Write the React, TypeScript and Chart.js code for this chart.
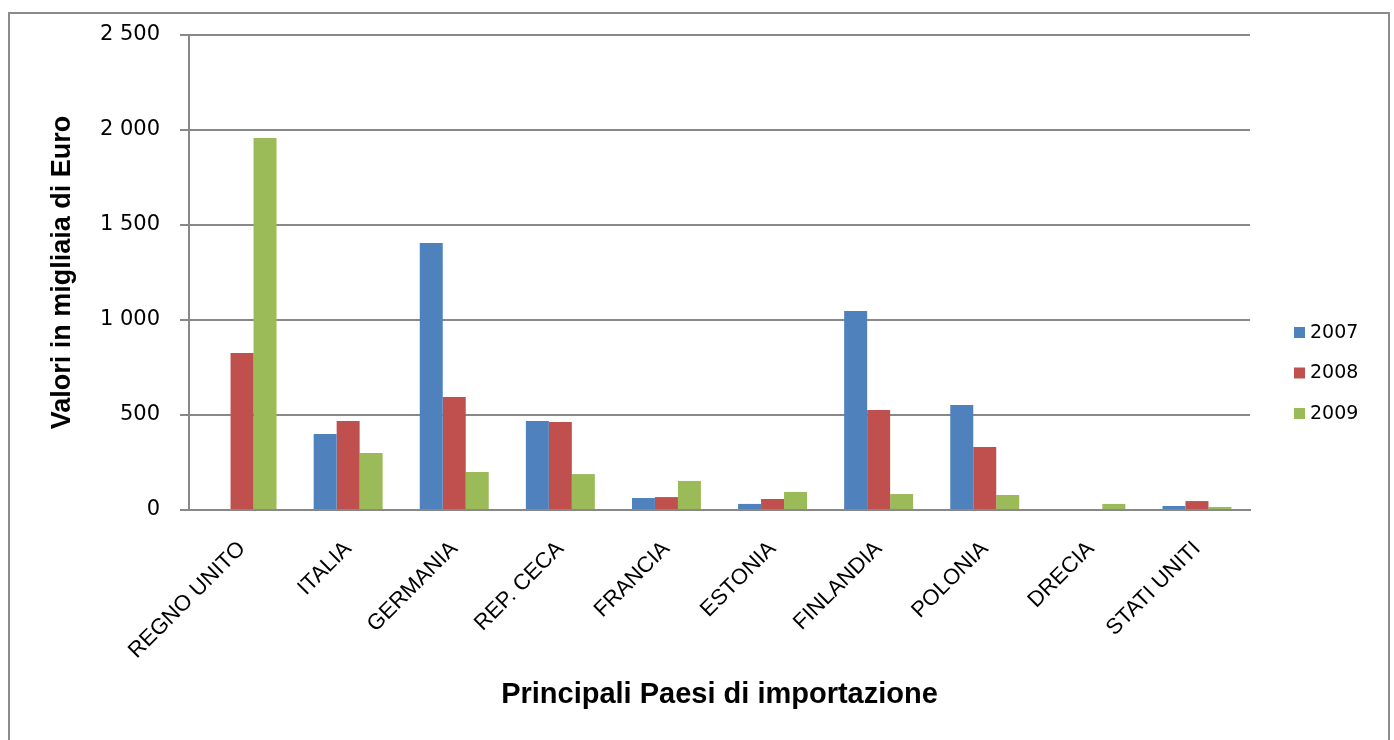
import React, { useEffect, useRef } from "react";
import { Chart, registerables } from "chart.js";

Chart.register(...registerables);

const categories = [
  "REGNO UNITO",
  "ITALIA",
  "GERMANIA",
  "REP. CECA",
  "FRANCIA",
  "ESTONIA",
  "FINLANDIA",
  "POLONIA",
  "DRECIA",
  "STATI UNITI",
];
const seriesLabels = ["2007", "2008", "2009"];
const values2007 = [0, 400, 1405, 468, 63, 32, 1047, 553, 0, 21];
const values2008 = [826, 468, 595, 463, 68, 58, 526, 332, 0, 47];
const values2009 = [1958, 300, 200, 189, 153, 95, 84, 79, 32, 16];
const yTicks = [0, 500, 1000, 1500, 2000, 2500];
const seriesColors = ["#4F81BD", "#C0504D", "#9BBB59"];

const yTitle = "Valori in migliaia di Euro";
const xTitle = "Principali Paesi di importazione";

function formatThousands(v: number): string {
  return String(v).replace(/\B(?=(\d{3})+(?!\d))/g, " ");
}

const sideLegend = {
  id: "sideLegend",
  afterDraw(chart: any) {
    const { ctx, chartArea } = chart;
    ctx.save();
    ctx.font = '19px "DejaVu Sans"';
    ctx.textBaseline = "middle";
    ctx.textAlign = "left";
    const x0 = chartArea.right + 44;
    chart.data.datasets.forEach((ds: any, i: number) => {
      const y = 332 + i * 40.5;
      ctx.fillStyle = ds.backgroundColor;
      ctx.fillRect(x0, y - 5, 11, 11);
      ctx.fillStyle = "#000";
      ctx.fillText(ds.label, x0 + 16, y + 1);
    });
    ctx.restore();
  },
};

export default function App() {
  const canvasRef = useRef<HTMLCanvasElement | null>(null);

  useEffect(() => {
    if (!canvasRef.current) return;
    const seriesValues = [values2007, values2008, values2009];
    const chart = new Chart(canvasRef.current, {
      type: "bar",
      data: {
        labels: categories,
        datasets: seriesLabels.map((label, i) => ({
          label,
          data: seriesValues[i],
          backgroundColor: seriesColors[i],
          borderWidth: 0,
          categoryPercentage: 0.65,
          barPercentage: 1,
        })),
      },
      options: {
        responsive: false,
        animation: false,
        layout: { padding: { left: 0, top: 35, right: 144, bottom: 0 } },
        plugins: {
          legend: { display: false },
          tooltip: { enabled: false },
          title: { display: false },
        },
        scales: {
          x: {
            grid: { display: false },
            border: { display: true, color: "#888888", width: 2 },
            ticks: {
              autoSkip: false,
              minRotation: 45,
              maxRotation: 45,
              padding: 18,
              color: "#000",
              font: { family: "Liberation Sans", size: 22 },
            },
            title: {
              display: true,
              text: xTitle,
              color: "#000",
              font: { family: "Liberation Sans", size: 29, weight: "bold" },
              padding: { top: 0, bottom: 28 },
            },
            afterFit: (s: any) => {
              s.height = 230;
            },
          },
          y: {
            min: 0,
            max: 2500,
            afterBuildTicks: (s: any) => {
              s.ticks = yTicks.map((v) => ({ value: v }));
            },
            ticks: {
              padding: 20,
              color: "#000",
              font: { family: "DejaVu Sans", size: 21 },
              callback: (v: any) => formatThousands(Number(v)),
            },
            grid: { color: "#888888", lineWidth: 2, tickLength: 9, drawTicks: true },
            border: { display: true, color: "#888888", width: 2 },
            title: {
              display: true,
              text: yTitle,
              color: "#000",
              font: { family: "Liberation Sans", size: 27, weight: "bold" },
              padding: { top: 46, bottom: 0 },
            },
            afterFit: (s: any) => {
              s.width = 189;
            },
          },
        },
      },
      plugins: [sideLegend],
    });
    return () => chart.destroy();
  }, []);

  return (
    <div
      style={{
        position: "fixed",
        left: 0,
        top: 0,
        width: 1394,
        height: 740,
        background: "#fff",
        overflow: "hidden",
      }}
    >
      <div
        style={{
          position: "absolute",
          left: 8,
          top: 12,
          width: 1378,
          height: 760,
          border: "2px solid #8c8c8c",
          boxSizing: "content-box",
        }}
      />
      <canvas
        ref={canvasRef}
        width={1394}
        height={740}
        style={{ position: "absolute", left: 0, top: 0, width: 1394, height: 740 }}
      />
    </div>
  );
}
